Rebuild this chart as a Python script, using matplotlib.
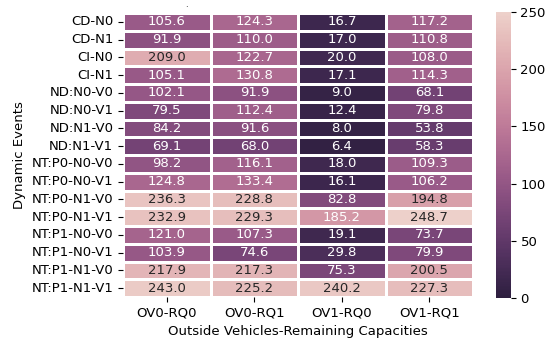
import numpy as np
import pandas as pd
import matplotlib
matplotlib.use('Agg')
import matplotlib.pyplot as plt
import seaborn as sns

events = ['CD-N0', 'CD-N1', 'CI-N0', 'CI-N1',
          'ND:N0-V0', 'ND:N0-V1', 'ND:N1-V0', 'ND:N1-V1',
          'NT:P0-N0-V0', 'NT:P0-N0-V1', 'NT:P0-N1-V0', 'NT:P0-N1-V1',
          'NT:P1-N0-V0', 'NT:P1-N0-V1', 'NT:P1-N1-V0', 'NT:P1-N1-V1']
settings = ['OV0-RQ0', 'OV0-RQ1', 'OV1-RQ0', 'OV1-RQ1']

ov0_rq0 = [105.6, 91.9, 209.0, 105.1, 102.1, 79.5, 84.2, 69.1,
           98.2, 124.8, 236.3, 232.9, 121.0, 103.9, 217.9, 243.0]
ov0_rq1 = [124.3, 110.0, 122.7, 130.8, 91.9, 112.4, 91.6, 68.0,
           116.1, 133.4, 228.8, 229.3, 107.3, 74.6, 217.3, 225.2]
ov1_rq0 = [16.7, 17.0, 20.0, 17.1, 9.0, 12.4, 8.0, 6.4,
           18.0, 16.1, 82.8, 185.2, 19.1, 29.8, 75.3, 240.2]
ov1_rq1 = [117.2, 110.8, 108.0, 114.3, 68.1, 79.8, 53.8, 58.3,
           109.3, 106.2, 194.8, 248.7, 73.7, 79.9, 200.5, 227.3]

df = pd.DataFrame(np.column_stack([ov0_rq0, ov0_rq1, ov1_rq0, ov1_rq1]),
                  index=events, columns=settings)

fs = 9.5
fig = plt.figure(figsize=(5.48, 3.43), dpi=100)
ax = fig.add_axes([0.2245, 0.134, 0.639, 0.828])
cax = fig.add_axes([0.905, 0.131, 0.027, 0.834])

cmap = sns.cubehelix_palette(as_cmap=True, reverse=True)
sns.heatmap(df, ax=ax, cbar_ax=cax, cmap=cmap, vmin=0, vmax=250,
            annot=True, fmt='.1f', linewidths=1, linecolor='white',
            annot_kws={'fontsize': fs})

fig.text(186 / 548, 1 - 9 / 343, '.', fontsize=6, ha='center', va='bottom')
ax.set_xlabel('Outside Vehicles-Remaining Capacities', fontsize=fs)
ax.set_ylabel('Dynamic Events', fontsize=fs)
ax.tick_params(axis='x', rotation=0, labelsize=fs)
ax.tick_params(axis='y', rotation=0, labelsize=fs)
cax.tick_params(labelsize=fs)
cax.set_yticks([0, 50, 100, 150, 200, 250])

fig.savefig('out.png', dpi=100)
